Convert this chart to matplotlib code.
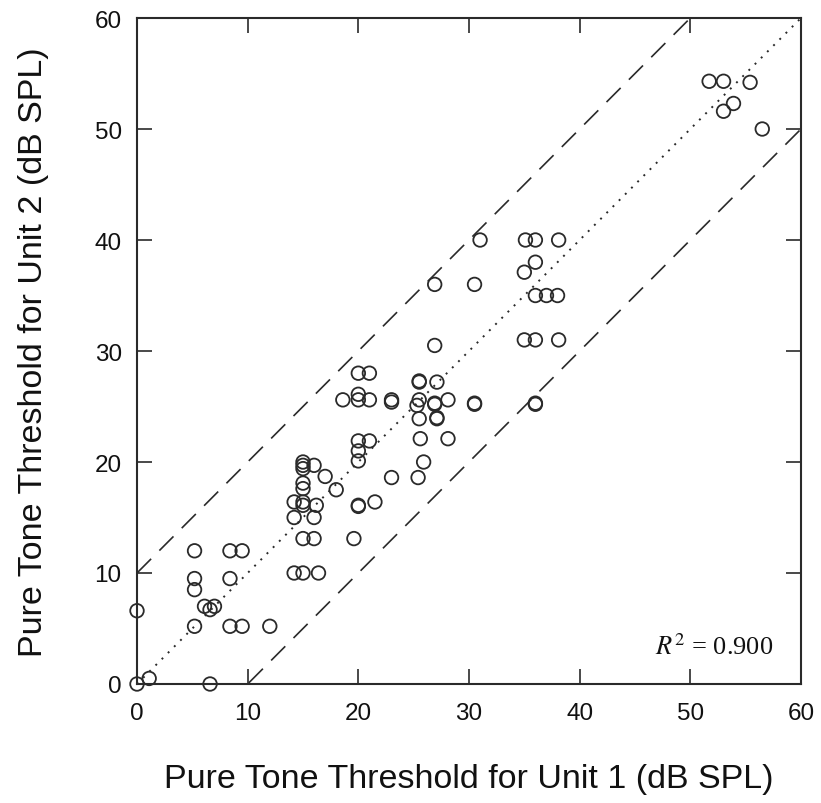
import matplotlib
matplotlib.use("Agg")
import numpy as np
from matplotlib import pyplot as plt

# thresholds (dB SPL)
unit1 = [0.0, 0.0, 1.1, 6.6, 5.2, 5.2, 5.2, 5.2, 6.1, 6.6, 7.0, 8.4, 9.5, 8.4, 8.4, 9.5, 12.0,
         14.2, 15.0, 16.4, 15.0, 16.0, 19.6, 14.2, 16.0, 14.2, 15.0, 15.0, 16.2,
         15.0, 15.0, 15.0, 15.0, 15.0, 16.0, 17.0, 18.0,
         20.0, 20.0, 20.0, 21.0, 21.5, 20.0, 20.0, 23.0, 25.4, 25.9, 25.6, 28.1,
         26.9, 35.0, 36.0, 38.1, 20.0, 21.0, 25.5, 25.5, 27.1, 18.6, 20.0, 20.0, 21.0,
         23.0, 23.0, 25.5, 25.3, 26.9, 26.9, 28.1, 30.5, 30.5, 36.0, 36.0, 25.5, 27.1, 27.1,
         31.0, 35.1, 36.0, 38.1, 36.0, 35.0, 36.0, 37.0, 38.0, 30.5, 26.9,
         51.7, 53.0, 55.4, 53.9, 53.0, 56.5]
unit2 = [6.6, 0.0, 0.5, 0.0, 12.0, 9.5, 8.5, 5.2, 7.0, 6.7, 7.0, 12.0, 12.0, 9.5, 5.2, 5.2, 5.2,
         10.0, 10.0, 10.0, 13.1, 13.1, 13.1, 15.0, 15.0, 16.4, 16.4, 16.1, 16.1,
         18.1, 17.6, 20.0, 19.7, 19.4, 19.7, 18.7, 17.5,
         20.1, 21.0, 21.9, 21.9, 16.4, 16.1, 16.0, 18.6, 18.6, 20.0, 22.1, 22.1,
         30.5, 31.0, 31.0, 31.0, 28.0, 28.0, 27.2, 27.3, 27.2, 25.6, 26.1, 25.6, 25.6,
         25.6, 25.4, 25.6, 25.1, 25.2, 25.3, 25.6, 25.2, 25.3, 25.2, 25.3, 23.9, 23.9, 24.0,
         40.0, 40.0, 40.0, 40.0, 38.0, 37.1, 35.0, 35.0, 35.0, 36.0, 36.0,
         54.3, 54.3, 54.2, 52.3, 51.6, 50.0]

r_squared = 0.900
limits = [0, 60]
ticks = [0, 10, 20, 30, 40, 50, 60]
band = 10

ink = "#2a2a2a"
text_ink = "#111111"
plt.rcParams["font.family"] = ["Liberation Sans", "DejaVu Sans"]
plt.rcParams["mathtext.fontset"] = "stix"

fig = plt.figure(figsize=(8.21, 8.04), dpi=100)
ax = fig.add_axes([137 / 821, 1 - 685 / 804, 664 / 821, 666 / 804])

line = np.array(limits, dtype=float)
ax.plot(line, line, color=ink, linestyle=(0, (1, 3.5)), linewidth=1.4)
ax.plot(line, line + band, color=ink, linestyle=(0, (12, 7)), linewidth=1.2)
ax.plot(line, line - band, color=ink, linestyle=(0, (12, 7)), linewidth=1.2)

ax.scatter(unit1, unit2, s=95, facecolors="none", edgecolors=ink, linewidths=1.3,
           clip_on=False, zorder=3)

ax.set_xlim(limits)
ax.set_ylim(limits)
ax.set_xticks(ticks)
ax.set_yticks(ticks)
ax.tick_params(direction="in", length=11, width=1.2, color=ink, labelsize=17.5,
               top=True, right=True, pad=11, labelcolor=text_ink)
ax.tick_params(axis="x", pad=13)
for spine in ax.spines.values():
    spine.set_linewidth(1.5)
    spine.set_color(ink)

ax.set_xlabel("Pure Tone Threshold for Unit 1 (dB SPL)", fontsize=24.5, color=text_ink)
ax.set_ylabel("Pure Tone Threshold for Unit 2 (dB SPL)", fontsize=24.5, color=text_ink)
ax.xaxis.set_label_coords(0.5, -0.118)
ax.yaxis.set_label_coords(-0.132, 0.5)

ax.text(0.958, 0.057, rf"$R^2$ = {r_squared:.3f}", transform=ax.transAxes, ha="right",
        va="center", fontsize=19, family=["Liberation Serif", "DejaVu Serif"],
        color=text_ink)

fig.savefig("out.png", dpi=100)
